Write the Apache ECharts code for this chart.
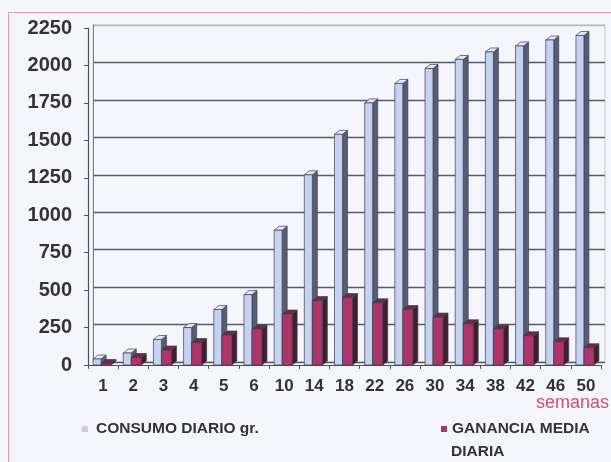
<!DOCTYPE html>
<html>
<head>
<meta charset="utf-8">
<script src="https://cdn.jsdelivr.net/npm/echarts@6/dist/echarts.min.js"></script>
<style>
html,body{margin:0;padding:0;background:#f5f6fb;}
#c{width:611px;height:462px;}
</style>
</head>
<body>
<div id="c"></div>
<script>
const categories = ['1','2','3','4','5','6','10','14','18','22','26','30','34','38','42','46','50'];
const consumo = [40, 80, 170, 250, 370, 470, 900, 1270, 1540, 1750, 1880, 1980, 2040, 2090, 2130, 2170, 2200];
const ganancia = [10, 50, 100, 150, 200, 240, 340, 430, 450, 415, 370, 320, 275, 240, 195, 155, 115];
const seriesNames = ['CONSUMO DIARIO gr.', 'GANANCIA MEDIA DIARIA'];
const yTicks = [0, 250, 500, 750, 1000, 1250, 1500, 1750, 2000, 2250];
const xTitle = 'semanas';

const FONT = '"Liberation Sans", Arial, sans-serif';
const yMin = yTicks[0], yMax = yTicks[yTicks.length - 1], yStep = yTicks[1] - yTicks[0];

function render3D(offL, offR, cFront, cTop, cSide) {
  return function (params, api) {
    const i = api.value(0), v = api.value(1);
    const base = api.coord([i, 0]);
    const top = api.coord([i, v]);
    const cx = base[0], y0 = base[1], y1 = top[1];
    const x0 = cx + offL, x1 = cx + offR;
    const dx = 5, dy = -4;
    const st = { stroke: '#3c3e4c', lineWidth: 0.7 };
    return {
      type: 'group',
      children: [
        { type: 'polygon', shape: { points: [[x1, y1], [x1 + dx, y1 + dy], [x1 + dx, y0 + dy], [x1, y0]] },
          style: Object.assign({ fill: cSide }, st) },
        { type: 'polygon', shape: { points: [[x0, y1], [x0 + dx, y1 + dy], [x1 + dx, y1 + dy], [x1, y1]] },
          style: Object.assign({ fill: cTop }, st) },
        { type: 'rect', shape: { x: x0, y: y1, width: x1 - x0, height: y0 - y1 },
          style: Object.assign({ fill: cFront }, st) }
      ]
    };
  };
}

const gridColors = yTicks.map((t, k) => k === yTicks.length - 1 ? '#b4b8c4' : '#565a6e');

const chart = echarts.init(document.getElementById('c'), null, { renderer: 'canvas' });
chart.setOption({
  backgroundColor: '#f5f6fb',
  animation: false,
  textStyle: { fontFamily: FONT },
  grid: [
    { left: 93, right: 6, top: 25, bottom: 100, show: true, borderColor: '#c4c7d2', borderWidth: 1, backgroundColor: 'transparent' },
    { left: 88, right: 10, top: 28, bottom: 97 }
  ],
  xAxis: [
    { type: 'category', gridIndex: 0, data: categories, show: false },
    { type: 'category', gridIndex: 1, data: categories,
      axisLine: { show: true, lineStyle: { color: '#4a4e60', width: 1.2 } },
      axisTick: { show: true, length: 4, lineStyle: { color: '#4a4e60' } },
      axisLabel: { color: '#333', fontSize: 17, fontWeight: 'bold', fontFamily: FONT, margin: 13, interval: 0 },
      splitLine: { show: false } }
  ],
  yAxis: [
    { type: 'value', gridIndex: 0, min: yMin, max: yMax, interval: yStep,
      axisLine: { show: true, lineStyle: { color: '#7a7e8e', width: 1 } },
      axisTick: { show: false }, axisLabel: { show: false },
      splitLine: { show: true, lineStyle: { color: gridColors, width: 1.3 } } },
    { type: 'value', gridIndex: 1, min: yMin, max: yMax, interval: yStep,
      axisLine: { show: true, lineStyle: { color: '#4a4e60', width: 1.2 } },
      axisTick: { show: true, length: 4, lineStyle: { color: '#4a4e60' } },
      axisLabel: { color: '#333', fontSize: 20, fontWeight: 'bold', fontFamily: FONT, margin: 16,
                   formatter: function (v) { return String(v); } },
      splitLine: { show: false } }
  ],
  legend: [
    { left: 82, top: 421, padding: 0, itemWidth: 6, itemHeight: 6, icon: 'rect', selectedMode: false,
      data: [seriesNames[0]],
      textStyle: { color: '#333', fontSize: 15.5, fontWeight: 'bold', fontFamily: FONT, padding: [0, 0, 0, 3] } },
    { left: 441, top: 421, padding: 0, itemWidth: 6, itemHeight: 6, icon: 'rect', selectedMode: false,
      data: [seriesNames[1]],
      formatter: function () { return 'GANANCIA MEDIA'; },
      textStyle: { color: '#333', fontSize: 15.5, fontWeight: 'bold', fontFamily: FONT, padding: [0, 0, 0, 0] } }
  ],
  graphic: [
    { type: 'rect', z: 0, silent: true, shape: { x: 8.5, y: 12.5, width: 620, height: 470 },
      style: { fill: 'none', stroke: '#e59aa6', lineWidth: 1 } },
    { type: 'text', left: 451, top: 444, silent: true,
      style: { text: 'DIARIA', fill: '#333', font: 'bold 15.5px ' + FONT } },
    { type: 'text', right: 2, top: 394, silent: true,
      style: { text: xTitle, fill: '#d4506a', font: '18px ' + FONT } }
  ],
  series: [
    { name: seriesNames[0], type: 'custom', xAxisIndex: 1, yAxisIndex: 1,
      itemStyle: { color: '#c3cff0' },
      renderItem: render3D(-10, -2, '#c6d2f1', '#e2e8f8', '#585c74'),
      encode: { x: 0, y: 1 },
      data: consumo.map((v, i) => [i, v]) },
    { name: seriesNames[1], type: 'custom', xAxisIndex: 1, yAxisIndex: 1,
      itemStyle: { color: '#a43a6a' },
      renderItem: render3D(-2, 8, '#ad356a', '#6e2a44', '#3f1f2d'),
      encode: { x: 0, y: 1 },
      data: ganancia.map((v, i) => [i, v]) }
  ]
});
</script>
</body>
</html>
